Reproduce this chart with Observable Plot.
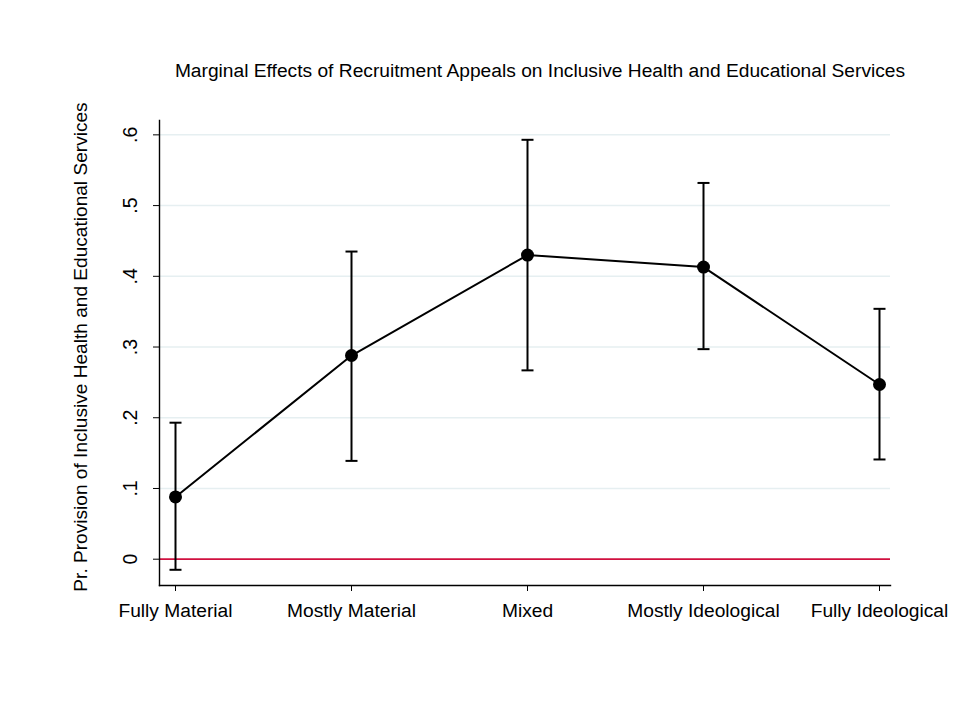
<!DOCTYPE html>
<html>
<head>
<meta charset="utf-8">
<script src="https://cdn.jsdelivr.net/npm/d3@7"></script>
<script src="https://cdn.jsdelivr.net/npm/@observablehq/plot@0.6"></script>
<style>
  html, body { margin: 0; padding: 0; background: #fff; }
  #chart svg { display: block; }
</style>
</head>
<body>
<div id="chart"></div>
<script>
// Recruitment appeal categories and the predicted probabilities with 95% CIs
const appeals = ["Fully Material", "Mostly Material", "Mixed", "Mostly Ideological", "Fully Ideological"];
const estimate = [0.088, 0.288, 0.430, 0.413, 0.247];
const lower = [-0.015, 0.139, 0.267, 0.297, 0.141];
const upper = [0.193, 0.435, 0.593, 0.532, 0.354];
const yTicks = [0, 0.1, 0.2, 0.3, 0.4, 0.5, 0.6];

const titleText = "Marginal Effects of Recruitment Appeals on Inclusive Health and Educational Services";
const yTitle = "Pr. Provision of Inclusive Health and Educational Services";

const rows = appeals.map((a, i) => ({appeal: a, est: estimate[i], lo: lower[i], hi: upper[i]}));
const fmt = v => v === 0 ? "0" : d3.format(".1f")(v).replace(/^0/, "");

// horizontal cap drawn at the ends of each confidence interval
const capSymbol = {
  draw(context) {
    context.moveTo(-6, 0);
    context.lineTo(6, 0);
  }
};

const font = "'Liberation Sans', Arial, sans-serif";

const chart = Plot.plot({
  width: 961,
  height: 709,
  marginLeft: 159,
  marginRight: 71,
  marginTop: 120,
  marginBottom: 124,
  style: {fontFamily: font, background: "#fff"},
  x: {type: "point", domain: appeals, range: [174, 879], padding: 0, axis: null},
  y: {domain: [-0.0372, 0.6203], axis: null},
  marks: [
    // horizontal grid
    Plot.ruleY(yTicks.filter(d => d !== 0), {stroke: "#e6eff1", strokeWidth: 1.5}),
    // reference line at zero
    Plot.ruleY([0], {stroke: "#d0103f", strokeWidth: 1.8}),
    // axis lines
    Plot.frame({anchor: "left", stroke: "#000", strokeWidth: 1.4}),
    Plot.frame({anchor: "bottom", stroke: "#000", strokeWidth: 1.4}),
    // y ticks and rotated labels
    Plot.axisY(yTicks, {ticks: yTicks, tickSize: 6, tickFormat: () => "", label: null, stroke: "#000"}),
    Plot.text(yTicks, {y: d => d, text: fmt, frameAnchor: "left", textAnchor: "middle", dx: -29, rotate: -90, fontSize: 19.5, fill: "#000"}),
    // x ticks and labels
    Plot.axisX(appeals, {tickSize: 6, tickFormat: () => "", label: null, stroke: "#000"}),
    Plot.text(appeals, {x: d => d, frameAnchor: "bottom", dy: 31, fontSize: 19.2, fill: "#000"}),
    // axis title and chart title
    Plot.text([yTitle], {frameAnchor: "left", textAnchor: "middle", dx: -79, dy: -6, rotate: -90, fontSize: 19.1, fill: "#000"}),
    Plot.text([titleText], {frameAnchor: "top", dx: 15, dy: -57, fontSize: 19.2, fill: "#000"}),
    // confidence intervals
    Plot.ruleX(rows, {x: "appeal", y1: "lo", y2: "hi", stroke: "#000", strokeWidth: 2}),
    Plot.dot(rows, {x: "appeal", y: "lo", symbol: capSymbol, stroke: "#000", strokeWidth: 2, fill: "none"}),
    Plot.dot(rows, {x: "appeal", y: "hi", symbol: capSymbol, stroke: "#000", strokeWidth: 2, fill: "none"}),
    // estimates
    Plot.line(rows, {x: "appeal", y: "est", stroke: "#000", strokeWidth: 2}),
    Plot.dot(rows, {x: "appeal", y: "est", r: 6.5, fill: "#000", stroke: "none"})
  ]
});

document.getElementById("chart").append(chart);
</script>
</body>
</html>
